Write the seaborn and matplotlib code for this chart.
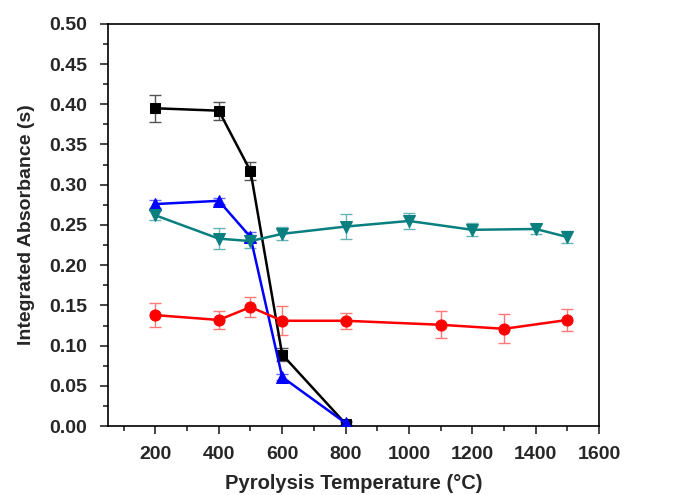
import matplotlib
matplotlib.use("Agg")
import matplotlib.pyplot as plt
import pandas as pd
import seaborn as sns
from matplotlib.ticker import MultipleLocator

# Data
temp_a = [200, 400, 500, 600, 800]
black_y = [0.395, 0.392, 0.317, 0.089, 0.003]
black_err = [0.017, 0.011, 0.011, 0.008, 0.002]
blue_y = [0.276, 0.280, 0.235, 0.061, 0.004]
blue_err = [0.005, 0.004, 0.006, 0.004, 0.002]

temp_teal = [200, 400, 500, 600, 800, 1000, 1200, 1400, 1500]
teal_y = [0.262, 0.233, 0.230, 0.239, 0.248, 0.255, 0.244, 0.245, 0.235]
teal_err = [0.006, 0.013, 0.008, 0.008, 0.016, 0.010, 0.008, 0.006, 0.008]

temp_red = [200, 400, 500, 600, 800, 1100, 1300, 1500]
red_y = [0.138, 0.132, 0.148, 0.131, 0.131, 0.126, 0.121, 0.132]
red_err = [0.015, 0.011, 0.012, 0.018, 0.010, 0.017, 0.018, 0.014]

series = [
    ("black", temp_a, black_y, black_err, "black", "#555555", "s", 7),
    ("blue", temp_a, blue_y, blue_err, "blue", "#6666ff", "^", 8),
    ("teal", temp_teal, teal_y, teal_err, "#0a7f7f", "#66b3b3", "v", 8),
    ("red", temp_red, red_y, red_err, "red", "#ff7777", "o", 8),
]

sns.set_style("ticks")
plt.rcParams["font.family"] = ["Liberation Sans", "DejaVu Sans"]
plt.rcParams["font.weight"] = "bold"

fig = plt.figure(figsize=(6.74, 4.95), dpi=100)
ax = fig.add_axes([0.160, 0.139, 0.729, 0.813])

for name, x, y, err, color, ecolor, marker, ms in series:
    ax.errorbar(x, y, yerr=err, fmt="none", ecolor=ecolor, elinewidth=1,
                capsize=4, capthick=1, zorder=2)
    df = pd.DataFrame({"T": x, "A": y})
    sns.lineplot(data=df, x="T", y="A", ax=ax, color=color, marker=marker,
                 markersize=ms, markeredgecolor=color, linewidth=1.8,
                 zorder=3)

ax.set_xlim(50, 1600)
ax.set_ylim(0, 0.5)
ax.xaxis.set_major_locator(MultipleLocator(200))
ax.xaxis.set_minor_locator(MultipleLocator(100))
ax.yaxis.set_major_locator(MultipleLocator(0.05))
ax.yaxis.set_minor_locator(MultipleLocator(0.025))
ax.set_xticks(range(200, 1601, 200))
ax.yaxis.set_major_formatter(plt.FuncFormatter(lambda v, p: f"{v:.2f}"))

for s in ax.spines.values():
    s.set_linewidth(1.2)
    s.set_color("black")
ax.tick_params(which="major", direction="out", length=6, width=1.2,
               labelsize=14, top=False, right=False)
ax.tick_params(axis="x", which="major", pad=8)
ax.tick_params(axis="y", which="major", pad=9)
ax.tick_params(which="minor", direction="out", length=3.5, width=1.2,
               top=False, right=False)
for lab in ax.get_xticklabels() + ax.get_yticklabels():
    lab.set_fontweight("bold")

ax.set_xlabel("Pyrolysis Temperature (°C)", fontsize=14.5, fontweight="bold",
              labelpad=8)
ax.set_ylabel("Integrated Absorbance (s)", fontsize=14, fontweight="bold",
              labelpad=10)

fig.savefig("out.png", dpi=100)
